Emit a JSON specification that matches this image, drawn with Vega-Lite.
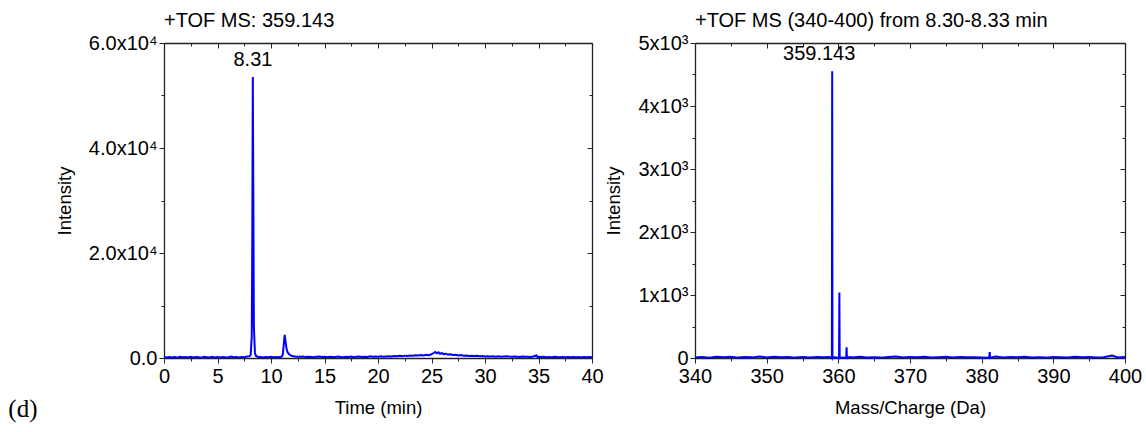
{
  "$schema": "https://vega.github.io/schema/vega-lite/v6.json",
  "padding": {"left": 8, "top": 11, "right": 5, "bottom": 5},
  "background": "white",
  "config": {
    "font": "Liberation Sans",
    "view": {"stroke": null},
    "axis": {"grid": false, "domainColor": "#222222", "tickColor": "#222222", "labelColor": "#000000", "titleColor": "#000000", "labelFontSize": 20, "titleFontSize": 18.5, "titleFontWeight": "normal", "labelFlush": false, "labelOverlap": false, "tickWidth": 1, "domainWidth": 1.3},
    "title": {"fontSize": 20, "fontWeight": "normal", "color": "#000000", "font": "Liberation Sans"}
  },
  "title": {"text": "(d)", "orient": "bottom", "anchor": "start", "font": "Liberation Serif", "fontSize": 25, "fontWeight": "normal", "dx": -47, "offset": -20},
  "spacing": 0,
  "hconcat": [
    {
      "width": 428,
      "height": 315,
      "title": {"text": "+TOF MS: 359.143", "anchor": "start", "frame": "group", "offset": 2},
      "data": {"values": [
        {"t":0,"I":150},{"t":0.25,"I":90},{"t":0.5,"I":210},{"t":0.75,"I":120},{"t":1,"I":180},{"t":1.25,"I":60},{"t":1.5,"I":240},{"t":1.75,"I":130},{"t":2,"I":170},{"t":2.25,"I":80},{"t":2.5,"I":220},{"t":2.75,"I":110},{"t":3,"I":190},{"t":3.25,"I":140},{"t":3.5,"I":70},{"t":3.75,"I":230},{"t":4,"I":160},{"t":4.25,"I":100},{"t":4.5,"I":250},{"t":4.75,"I":120},{"t":5,"I":180},{"t":5.25,"I":90},{"t":5.5,"I":200},{"t":5.75,"I":140},{"t":6,"I":110},{"t":6.25,"I":260},{"t":6.5,"I":130},{"t":6.75,"I":170},{"t":7,"I":90},{"t":7.25,"I":210},{"t":7.5,"I":150},{"t":7.75,"I":280},{"t":8,"I":350},{"t":8.1,"I":600},{"t":8.2,"I":4000},{"t":8.25,"I":22000},{"t":8.3,"I":53500},{"t":8.35,"I":30000},{"t":8.4,"I":6000},{"t":8.5,"I":900},{"t":8.6,"I":400},{"t":8.75,"I":250},{"t":9,"I":180},{"t":9.25,"I":120},{"t":9.5,"I":200},{"t":9.75,"I":150},{"t":10,"I":230},{"t":10.25,"I":130},{"t":10.5,"I":190},{"t":10.75,"I":160},{"t":11,"I":250},{"t":11.1,"I":600},{"t":11.2,"I":2800},{"t":11.28,"I":4400},{"t":11.35,"I":3300},{"t":11.45,"I":1800},{"t":11.55,"I":1100},{"t":11.7,"I":700},{"t":11.85,"I":500},{"t":12,"I":380},{"t":12.25,"I":300},{"t":12.5,"I":260},{"t":12.75,"I":220},{"t":13,"I":280},{"t":13.25,"I":170},{"t":13.5,"I":240},{"t":13.75,"I":190},{"t":14,"I":150},{"t":14.25,"I":260},{"t":14.5,"I":300},{"t":14.75,"I":180},{"t":15,"I":220},{"t":15.25,"I":140},{"t":15.5,"I":250},{"t":15.75,"I":200},{"t":16,"I":170},{"t":16.25,"I":280},{"t":16.5,"I":210},{"t":16.75,"I":150},{"t":17,"I":240},{"t":17.25,"I":190},{"t":17.5,"I":270},{"t":17.75,"I":160},{"t":18,"I":230},{"t":18.25,"I":290},{"t":18.5,"I":180},{"t":18.75,"I":250},{"t":19,"I":200},{"t":19.25,"I":310},{"t":19.5,"I":220},{"t":19.75,"I":280},{"t":20,"I":240},{"t":20.25,"I":330},{"t":20.5,"I":260},{"t":20.75,"I":300},{"t":21,"I":350},{"t":21.25,"I":280},{"t":21.5,"I":390},{"t":21.75,"I":320},{"t":22,"I":410},{"t":22.25,"I":360},{"t":22.5,"I":450},{"t":22.75,"I":380},{"t":23,"I":470},{"t":23.25,"I":420},{"t":23.5,"I":520},{"t":23.75,"I":460},{"t":24,"I":560},{"t":24.25,"I":500},{"t":24.5,"I":610},{"t":24.75,"I":540},{"t":25,"I":700},{"t":25.2,"I":950},{"t":25.35,"I":1150},{"t":25.5,"I":900},{"t":25.65,"I":1100},{"t":25.8,"I":800},{"t":26,"I":950},{"t":26.15,"I":700},{"t":26.3,"I":850},{"t":26.5,"I":650},{"t":26.75,"I":720},{"t":27,"I":560},{"t":27.25,"I":620},{"t":27.5,"I":480},{"t":27.75,"I":550},{"t":28,"I":430},{"t":28.25,"I":470},{"t":28.5,"I":390},{"t":28.75,"I":440},{"t":29,"I":360},{"t":29.25,"I":410},{"t":29.5,"I":330},{"t":29.75,"I":380},{"t":30,"I":300},{"t":30.25,"I":350},{"t":30.5,"I":280},{"t":30.75,"I":330},{"t":31,"I":260},{"t":31.25,"I":310},{"t":31.5,"I":240},{"t":31.75,"I":290},{"t":32,"I":350},{"t":32.25,"I":270},{"t":32.5,"I":230},{"t":32.75,"I":300},{"t":33,"I":250},{"t":33.25,"I":200},{"t":33.5,"I":280},{"t":33.75,"I":220},{"t":34,"I":260},{"t":34.25,"I":190},{"t":34.5,"I":300},{"t":34.8,"I":480},{"t":34.9,"I":200},{"t":35,"I":240},{"t":35.25,"I":180},{"t":35.5,"I":220},{"t":35.75,"I":160},{"t":36,"I":200},{"t":36.25,"I":150},{"t":36.5,"I":230},{"t":36.75,"I":170},{"t":37,"I":140},{"t":37.25,"I":210},{"t":37.5,"I":160},{"t":37.75,"I":190},{"t":38,"I":130},{"t":38.25,"I":200},{"t":38.5,"I":150},{"t":38.75,"I":180},{"t":39,"I":120},{"t":39.25,"I":170},{"t":39.5,"I":140},{"t":39.75,"I":190},{"t":40,"I":150}
      ]},
      "layer": [
        {
          "mark": {"type": "line", "color": "#0000ff", "strokeWidth": 2},
          "encoding": {
            "x": {"field": "t", "type": "quantitative", "scale": {"domain": [0, 40], "nice": false, "zero": false},
              "axis": {"orient": "bottom", "values": [0,2.5,5,7.5,10,12.5,15,17.5,20,22.5,25,27.5,30,32.5,35,37.5,40],
                "labelExpr": "datum.value % 5 == 0 ? datum.label : ''",
                "tickSize": {"condition": {"test": "datum.value % 5 == 0", "value": 5}, "value": 3},
                "labelPadding": 3, "title": "Time (min)", "titlePadding": 12}},
            "y": {"field": "I", "type": "quantitative", "scale": {"domain": [0, 60000], "nice": false},
              "axis": {"orient": "left", "values": [0,10000,20000,30000,40000,50000,60000],
                "labelExpr": "datum.value % 20000 == 0 ? (datum.value == 0 ? '0.0' : format(datum.value/10000, '.1f') + 'x10⁴') : ''",
                "tickSize": {"condition": {"test": "datum.value % 20000 == 0", "value": 5}, "value": 3},
                "labelPadding": 2, "title": "Intensity", "titlePadding": 14}}
          }
        },
        {
          "data": {"values": [{"t": 8.31, "I": 53500, "label": "8.31"}]},
          "mark": {"type": "text", "fontSize": 20, "baseline": "bottom", "dy": -7, "color": "#000000"},
          "encoding": {
            "x": {"field": "t", "type": "quantitative",
              "axis": {"orient": "top", "values": [0,2.5,5,7.5,10,12.5,15,17.5,20,22.5,25,27.5,30,32.5,35,37.5,40], "labels": false, "title": null,
                "tickSize": {"condition": {"test": "datum.value % 5 == 0", "value": -5}, "value": -3}}},
            "y": {"field": "I", "type": "quantitative",
              "axis": {"orient": "right", "values": [0,10000,20000,30000,40000,50000,60000], "labels": false, "title": null,
                "tickSize": {"condition": {"test": "datum.value % 20000 == 0", "value": -5}, "value": -3}}},
            "text": {"field": "label"}
          }
        }
      ],
      "resolve": {"axis": {"x": "independent", "y": "independent"}}
    },
    {
      "width": 430,
      "height": 315,
      "title": {"text": "+TOF MS (340-400) from 8.30-8.33 min", "anchor": "start", "frame": "group", "offset": 2},
      "data": {"values": [
        {"m":340,"I":8},{"m":341,"I":15},{"m":342,"I":5},{"m":343,"I":18},{"m":344,"I":10},{"m":345,"I":20},{"m":346,"I":6},{"m":347,"I":14},{"m":348,"I":10},{"m":349,"I":25},{"m":350,"I":8},{"m":351,"I":18},{"m":352,"I":12},{"m":353,"I":15},{"m":354,"I":6},{"m":355,"I":14},{"m":356,"I":9},{"m":357,"I":16},{"m":358,"I":10},{"m":358.5,"I":14},{"m":359.05,"I":8},{"m":359.1,"I":0},{"m":359.143,"I":4550},{"m":359.18,"I":0},{"m":359.5,"I":12},{"m":360.1,"I":0},{"m":360.146,"I":1040},{"m":360.19,"I":0},{"m":360.6,"I":8},{"m":361.1,"I":0},{"m":361.15,"I":170},{"m":361.2,"I":0},{"m":361.6,"I":14},{"m":362,"I":8},{"m":363,"I":20},{"m":364,"I":9},{"m":365,"I":12},{"m":366,"I":6},{"m":367,"I":15},{"m":368,"I":25},{"m":369,"I":8},{"m":370,"I":14},{"m":371,"I":10},{"m":372,"I":18},{"m":373,"I":8},{"m":374,"I":13},{"m":375,"I":20},{"m":376,"I":9},{"m":377,"I":16},{"m":378,"I":10},{"m":379,"I":13},{"m":380,"I":8},{"m":381.05,"I":5},{"m":381.12,"I":95},{"m":381.18,"I":5},{"m":382,"I":25},{"m":383,"I":8},{"m":384,"I":14},{"m":385,"I":10},{"m":386,"I":18},{"m":387,"I":9},{"m":388,"I":13},{"m":389,"I":6},{"m":390,"I":15},{"m":391,"I":12},{"m":392,"I":8},{"m":393,"I":18},{"m":394,"I":10},{"m":395,"I":14},{"m":396,"I":8},{"m":397,"I":12},{"m":398.2,"I":40},{"m":399,"I":9},{"m":400,"I":14}
      ]},
      "layer": [
        {
          "mark": {"type": "line", "color": "#0000ff", "strokeWidth": 2},
          "encoding": {
            "x": {"field": "m", "type": "quantitative", "scale": {"domain": [340, 400], "nice": false, "zero": false},
              "axis": {"orient": "bottom", "values": [340,345,350,355,360,365,370,375,380,385,390,395,400],
                "labelExpr": "datum.value % 10 == 0 ? datum.label : ''",
                "tickSize": {"condition": {"test": "datum.value % 10 == 0", "value": 5}, "value": 3},
                "labelPadding": 3, "title": "Mass/Charge (Da)", "titlePadding": 12}},
            "y": {"field": "I", "type": "quantitative", "scale": {"domain": [0, 5000], "nice": false},
              "axis": {"orient": "left", "values": [0,500,1000,1500,2000,2500,3000,3500,4000,4500,5000],
                "labelExpr": "datum.value % 1000 == 0 ? (datum.value == 0 ? '0' : format(datum.value/1000, 'd') + 'x10³') : ''",
                "tickSize": {"condition": {"test": "datum.value % 1000 == 0", "value": 5}, "value": 3},
                "labelPadding": 2, "title": "Intensity", "titlePadding": 14}}
          }
        },
        {
          "data": {"values": [{"m": 359.143, "I": 4550, "label": "359.143"}]},
          "mark": {"type": "text", "fontSize": 20, "baseline": "bottom", "dy": -7, "dx": -13, "color": "#000000"},
          "encoding": {
            "x": {"field": "m", "type": "quantitative",
              "axis": {"orient": "top", "values": [340,345,350,355,360,365,370,375,380,385,390,395,400], "labels": false, "title": null,
                "tickSize": {"condition": {"test": "datum.value % 10 == 0", "value": -5}, "value": -3}}},
            "y": {"field": "I", "type": "quantitative",
              "axis": {"orient": "right", "values": [0,500,1000,1500,2000,2500,3000,3500,4000,4500,5000], "labels": false, "title": null,
                "tickSize": {"condition": {"test": "datum.value % 1000 == 0", "value": -5}, "value": -3}}},
            "text": {"field": "label"}
          }
        }
      ],
      "resolve": {"axis": {"x": "independent", "y": "independent"}}
    }
  ]
}
